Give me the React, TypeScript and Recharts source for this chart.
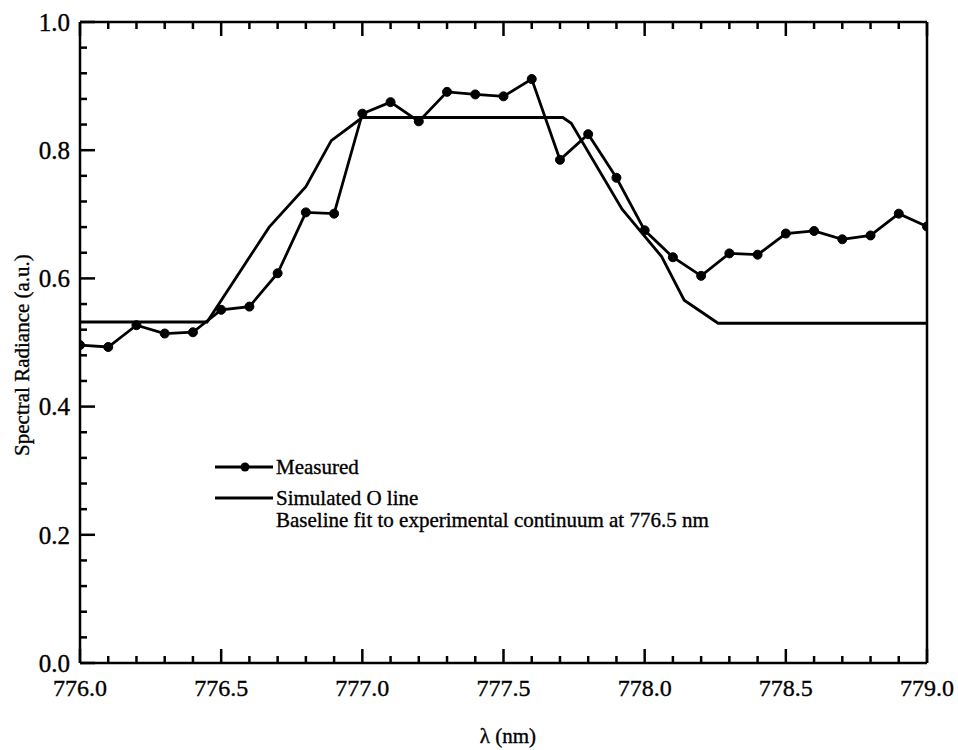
import React from 'react';
import { LineChart, Line, XAxis, YAxis, Legend, Label } from 'recharts';

// Measured spectrum (wavelength in nm, radiance in a.u.)
const measuredWavelength = [
  776.0, 776.1, 776.2, 776.3, 776.4, 776.5, 776.6, 776.7, 776.8, 776.9,
  777.0, 777.1, 777.2, 777.3, 777.4, 777.5, 777.6, 777.7, 777.8, 777.9,
  778.0, 778.1, 778.2, 778.3, 778.4, 778.5, 778.6, 778.7, 778.8, 778.9, 779.0,
];
const measuredRadiance = [
  0.496, 0.493, 0.527, 0.514, 0.516, 0.551, 0.556, 0.608, 0.703, 0.701,
  0.857, 0.875, 0.845, 0.891, 0.887, 0.884, 0.911, 0.785, 0.825, 0.757,
  0.675, 0.633, 0.604, 0.639, 0.637, 0.670, 0.674, 0.661, 0.667, 0.701, 0.681,
];

// Simulated O line (baseline fit to continuum at 776.5 nm)
const simulatedWavelength = [
  776.0, 776.45, 776.67, 776.8, 776.89, 777.0, 777.71, 777.74, 777.92,
  778.06, 778.14, 778.26, 779.0,
];
const simulatedRadiance = [
  0.532, 0.532, 0.680, 0.743, 0.815, 0.851, 0.851, 0.842, 0.708,
  0.634, 0.566, 0.530, 0.530,
];

const xTicks = [
  776.0, 776.1, 776.2, 776.3, 776.4, 776.5, 776.6, 776.7, 776.8, 776.9,
  777.0, 777.1, 777.2, 777.3, 777.4, 777.5, 777.6, 777.7, 777.8, 777.9,
  778.0, 778.1, 778.2, 778.3, 778.4, 778.5, 778.6, 778.7, 778.8, 778.9, 779.0,
];
const yTicks = [
  0.0, 0.04, 0.08, 0.12, 0.16, 0.2, 0.24, 0.28, 0.32, 0.36, 0.4, 0.44, 0.48,
  0.52, 0.56, 0.6, 0.64, 0.68, 0.72, 0.76, 0.8, 0.84, 0.88, 0.92, 0.96, 1.0,
];

const measuredData = measuredWavelength.map((x, i) => ({ x, y: measuredRadiance[i] }));
const simulatedData = simulatedWavelength.map((x, i) => ({ x, y: simulatedRadiance[i] }));

const FONT = "'Liberation Serif', 'Times New Roman', serif";
const TXT = { fontFamily: FONT, fill: '#000', stroke: '#000', strokeWidth: 0.35 };

const isMajorX = (v: number) => Math.abs(v * 2 - Math.round(v * 2)) < 1e-6;
const isMajorY = (v: number) => Math.abs(v * 5 - Math.round(v * 5)) < 1e-6;

const BottomTick = (props: any) => {
  const { x, y, payload } = props;
  const v = payload.value as number;
  const major = isMajorX(v);
  return (
    <g>
      <line x1={x} x2={x} y1={y} y2={y - (major ? 14 : 7)} stroke="#000" strokeWidth={2.5} />
      {major && (
        <text x={x} y={y + 33} textAnchor="middle" fontSize={24} style={TXT}>
          {v.toFixed(1)}
        </text>
      )}
    </g>
  );
};

const TopTick = (props: any) => {
  const { x, y, payload } = props;
  const v = payload.value as number;
  const major = isMajorX(v);
  return <line x1={x} x2={x} y1={y} y2={y + (major ? 14 : 7)} stroke="#000" strokeWidth={2.5} />;
};

const LeftTick = (props: any) => {
  const { x, y, payload } = props;
  const v = payload.value as number;
  const major = isMajorY(v);
  return (
    <g>
      <line x1={x} x2={x + (major ? 15 : 7)} y1={y} y2={y} stroke="#000" strokeWidth={2.5} />
      {major && (
        <text x={x - 10} y={y} dy="0.35em" textAnchor="end" fontSize={25} style={TXT}>
          {v.toFixed(1)}
        </text>
      )}
    </g>
  );
};

const YTitle = () => (
  <text
    x={22}
    y={355}
    transform="rotate(-90 22 355)"
    dy="0.35em"
    textAnchor="middle"
    fontSize={21}
    style={TXT}
  >
    Spectral Radiance (a.u.)
  </text>
);

const XTitle = () => (
  <text x={508} y={743} textAnchor="middle" fontSize={21} style={TXT}>
    λ (nm)
  </text>
);

const LegendContent = () => (
  <svg width={540} height={90} style={{ display: 'block', overflow: 'visible' }}>
    <line x1={10} x2={68} y1={17} y2={17} stroke="#000" strokeWidth={2.8} />
    <circle cx={40} cy={17} r={4.5} fill="#000" />
    <text x={71} y={24} fontSize={21} style={TXT}>Measured</text>
    <line x1={10} x2={68} y1={48} y2={48} stroke="#000" strokeWidth={2.8} />
    <text x={71} y={55} fontSize={21} style={TXT}>Simulated O line</text>
    <text x={71} y={77} fontSize={21} style={TXT}>
      Baseline fit to experimental continuum at 776.5 nm
    </text>
  </svg>
);

export default function App() {
  return (
    <div style={{ position: 'absolute', left: 0, top: 0, width: 958, height: 750, background: '#fff' }}>
      <LineChart width={958} height={750} margin={{ top: 21, right: 30, bottom: 0, left: 0 }}>
        <XAxis
          dataKey="x"
          type="number"
          domain={[776, 779]}
          ticks={xTicks}
          interval={0}
          height={87}
          tickSize={0}
          tickMargin={0}
          tick={<BottomTick />}
          axisLine={{ stroke: '#000', strokeWidth: 2.5 }}
          allowDataOverflow
        >
          <Label content={<XTitle />} />
        </XAxis>
        <XAxis
          xAxisId="top"
          orientation="top"
          dataKey="x"
          type="number"
          domain={[776, 779]}
          ticks={xTicks}
          interval={0}
          height={1}
          tickSize={0}
          tickMargin={0}
          tick={<TopTick />}
          axisLine={{ stroke: '#000', strokeWidth: 2.5 }}
          allowDataOverflow
        />
        <YAxis
          type="number"
          domain={[0, 1]}
          ticks={yTicks}
          interval={0}
          width={80}
          tickSize={0}
          tickMargin={0}
          tick={<LeftTick />}
          axisLine={{ stroke: '#000', strokeWidth: 2.5 }}
          allowDataOverflow
        >
          <Label content={<YTitle />} />
        </YAxis>
        <YAxis
          yAxisId="right"
          orientation="right"
          type="number"
          domain={[0, 1]}
          width={1}
          tick={false}
          tickLine={false}
          axisLine={{ stroke: '#000', strokeWidth: 2.5 }}
        />
        <Legend
          layout="horizontal"
          verticalAlign="middle"
          align="center"
          content={<LegendContent />}
          wrapperStyle={{ position: 'absolute', left: 205, top: 450, width: 540, height: 90 }}
        />
        <Line
          data={simulatedData}
          dataKey="y"
          type="linear"
          stroke="#000"
          strokeWidth={2.8}
          dot={false}
          isAnimationActive={false}
          legendType="none"
        />
        <Line
          data={measuredData}
          dataKey="y"
          type="linear"
          stroke="#000"
          strokeWidth={2.8}
          dot={{ r: 4.5, fill: '#000', stroke: '#000', strokeWidth: 1 }}
          isAnimationActive={false}
          legendType="none"
        />
      </LineChart>
    </div>
  );
}
